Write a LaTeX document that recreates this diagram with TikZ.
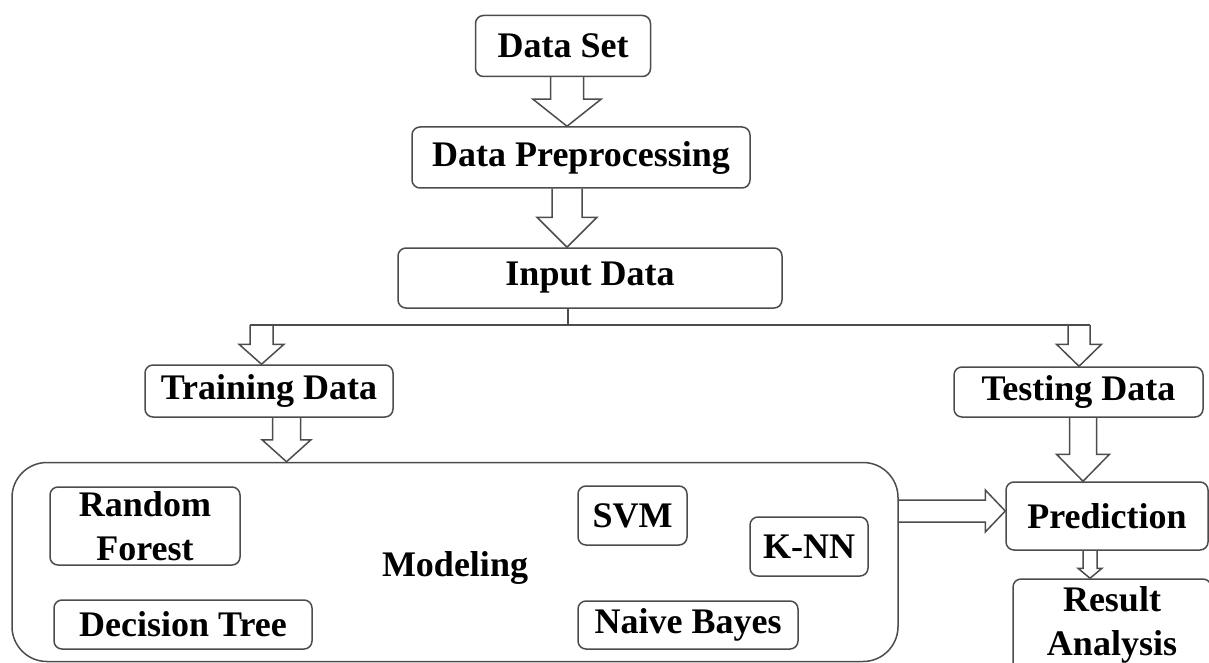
\documentclass[tikz,border=0pt]{standalone}
\usepackage{fontspec}
\setmainfont{Liberation Serif}
\usetikzlibrary{calc}

% hollow block arrow pointing down: from, to, x reference, half shaft, half head, head length
\newcommand{\hollowdown}[6]{%
  \draw[blockarrow] let \p1=(#1 -| #3), \p2=(#2 -| #3) in
    (\x1-#4,\y1) -- (\x1-#4,\y2+#6) -- (\x1-#5,\y2+#6) -- (\x2,\y2)
    -- (\x1+#5,\y2+#6) -- (\x1+#4,\y2+#6) -- (\x1+#4,\y1);}
% hollow block arrow pointing right: from, to, y reference, half shaft, half head, head length
\newcommand{\hollowright}[6]{%
  \draw[blockarrow] let \p1=(#1 |- #3), \p2=(#2 |- #3) in
    (\x1,\y1+#4) -- (\x2-#6,\y1+#4) -- (\x2-#6,\y1+#5) -- (\x2,\y2)
    -- (\x2-#6,\y1-#5) -- (\x2-#6,\y1-#4) -- (\x1,\y1-#4);}

\begin{document}
\begin{tikzpicture}[
            x = 1pt, y = -1pt, % pixel grid
            font = \bfseries\fontsize{36}{44}\selectfont,
            line width = 1.5pt
        ]

        \tikzstyle{box}=[
            draw = black!70,
            rounded corners = 8pt,
            inner sep = 0pt,
            align = center
        ]
        \tikzstyle{blockarrow}=[
            draw = black!70,
            line join = miter
        ]
        \tikzstyle{line}=[
            draw = black!70
        ]

        \useasboundingbox (0,0) rectangle (1209,663);
        \clip (0,0) rectangle (1209,663);

	% pipeline
        \node[box, minimum width=175, minimum height=61] (DS) at (563,46) {Data Set};
        \node[box, minimum width=338, minimum height=61] (DP) at (581,157.5) {Data Preprocessing};
        \node[box, minimum width=384, minimum height=60] (ID) at (590,278) {Input Data};

        \coordinate (x1) at (567,0);
        \hollowdown{DS.south}{DP.north}{x1}{16.5pt}{34pt}{27pt}
        \hollowdown{DP.south}{ID.north}{x1}{15pt}{30pt}{30pt}

        % split
        \node[box, minimum width=248, minimum height=52] (TR) at (269,391) {Training Data};
        \node[box, minimum width=249, minimum height=50] (TE) at (1078.5,392) {Testing Data};

        \coordinate (split) at (568,325);
        \coordinate (lsplit) at (261.5,325);
        \coordinate (rsplit) at (1079,325);
        \draw[line] (ID.south -| split) -- (split);
        \draw[line] ($(lsplit)+(-11.5,0)$) -- ($(rsplit)+(11,0)$);
        \hollowdown{lsplit}{TR.north}{lsplit}{11.5pt}{22.5pt}{20pt}
        \hollowdown{rsplit}{TE.north}{rsplit}{11pt}{22.5pt}{22pt}

        % modeling
        \node[box, rounded corners=35pt, minimum width=886, minimum height=199] (MOD) at (455,562) {};
        \node (MODL) at (455,568) {Modeling};
        \node[box, minimum width=190, minimum height=78] (RF) at (145,526) {Random\\Forest};
        \node[box, minimum width=258, minimum height=49] (DT) at (183,624.5) {Decision Tree};
        \node[box, minimum width=109, minimum height=59] (SVM) at (632.5,515.5) {SVM};
        \node[box, minimum width=118, minimum height=59] (KNN) at (809,546.5) {K-NN};
        \node[box, minimum width=220, minimum height=48] (NB) at (688,625) {Naive Bayes};

        \coordinate (x2) at (286.5,0);
        \hollowdown{TR.south}{MOD.north}{x2}{14pt}{24.5pt}{22pt}

        % prediction
        \node[box, minimum width=202, minimum height=68] (PR) at (1107,516) {Prediction};
        \node[box, minimum width=198, minimum height=92] (RA) at (1112,625) {Result\\Analysis};

        \coordinate (y1) at (0,511);
        \hollowright{MOD.east}{PR.west}{y1}{11pt}{21pt}{20pt}
        \coordinate (x3) at (1083,0);
        \hollowdown{TE.south}{PR.north}{x3}{13.5pt}{26.5pt}{27pt}
        \coordinate (x4) at (1090,0);
        \hollowdown{PR.south}{RA.north}{x4}{7pt}{12pt}{10pt}

  \end{tikzpicture}
\end{document}
